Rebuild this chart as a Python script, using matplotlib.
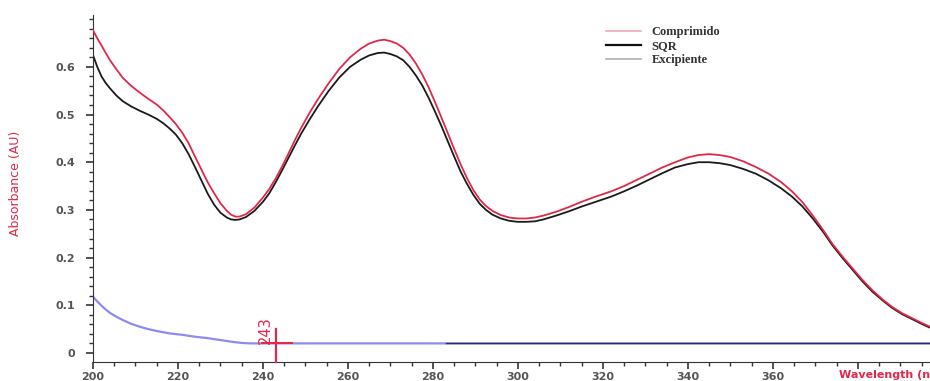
import numpy as np
import matplotlib.pyplot as plt
from matplotlib.ticker import MultipleLocator, FixedLocator, FuncFormatter

# wavelength grid (nm) shared by the two sample spectra
wavelength = [200, 201, 202, 203, 204, 205.5, 207, 209, 211, 213, 215, 216.5, 218,
              219.5, 221, 222.5, 224, 225.5, 227, 228.5, 230, 231.5, 232.5, 233.5,
              234.5, 236, 238, 240, 241.5, 243, 244.5, 246, 247.5, 249, 251, 253,
              255.5, 258, 260.5, 263, 265, 267, 268.5, 270, 271.5, 273, 274.5, 276,
              277.5, 279, 280.5, 282, 283.5, 285, 286.5, 288, 289.5, 291, 292.5, 294,
              296, 298, 300, 302, 304, 306, 309, 312, 315, 318, 322, 325, 328, 331,
              334, 337, 340, 342.5, 345, 347.5, 350, 353, 356, 359, 362, 364.5, 367,
              369.5, 372, 374, 376.5, 379, 381, 383.5, 386, 388, 390.5, 393, 395, 397]

comprimido = [0.677, 0.660, 0.645, 0.629, 0.614, 0.595, 0.577, 0.560, 0.546, 0.533,
              0.521, 0.509, 0.495, 0.480, 0.462, 0.440, 0.412, 0.385, 0.358, 0.335,
              0.314, 0.298, 0.290, 0.286, 0.286, 0.291, 0.305, 0.326, 0.344, 0.366,
              0.391, 0.418, 0.446, 0.472, 0.504, 0.533, 0.566, 0.596, 0.620, 0.638,
              0.649, 0.655, 0.657, 0.654, 0.649, 0.640, 0.626, 0.607, 0.584, 0.557,
              0.526, 0.494, 0.461, 0.428, 0.396, 0.367, 0.342, 0.322, 0.308, 0.298,
              0.289, 0.284, 0.282, 0.282, 0.284, 0.288, 0.296, 0.306, 0.317, 0.327,
              0.339, 0.350, 0.363, 0.376, 0.389, 0.400, 0.410, 0.415, 0.417, 0.415,
              0.411, 0.402, 0.390, 0.376, 0.358, 0.339, 0.316, 0.287, 0.256, 0.229,
              0.201, 0.175, 0.154, 0.131, 0.111, 0.097, 0.083, 0.072, 0.063, 0.055]

sqr = [0.625, 0.600, 0.580, 0.566, 0.555, 0.540, 0.528, 0.517, 0.508, 0.500,
       0.491, 0.482, 0.471, 0.458, 0.440, 0.417, 0.390, 0.362, 0.334, 0.311,
       0.294, 0.284, 0.280, 0.279, 0.280, 0.285, 0.298, 0.317, 0.335, 0.358,
       0.383, 0.409, 0.435, 0.460, 0.490, 0.518, 0.550, 0.578, 0.600, 0.615,
       0.624, 0.629, 0.630, 0.627, 0.622, 0.614, 0.600, 0.582, 0.561, 0.535,
       0.506, 0.476, 0.444, 0.412, 0.381, 0.355, 0.332, 0.313, 0.300, 0.290,
       0.282, 0.277, 0.275, 0.275, 0.276, 0.280, 0.288, 0.297, 0.307, 0.316,
       0.328, 0.339, 0.351, 0.364, 0.377, 0.389, 0.396, 0.400, 0.400, 0.398,
       0.394, 0.386, 0.376, 0.362, 0.345, 0.328, 0.307, 0.281, 0.252, 0.226,
       0.198, 0.172, 0.151, 0.128, 0.109, 0.095, 0.081, 0.070, 0.061, 0.053]

# excipient blank
exc_wavelength = [200, 201, 202, 203, 204, 205.5, 207, 209, 211, 213, 215, 218, 221,
                  224, 227, 230, 233, 235, 237, 240, 260, 283, 300, 340, 380, 397]
excipiente = [0.118, 0.108, 0.099, 0.091, 0.084, 0.076, 0.069, 0.061, 0.055, 0.050,
              0.046, 0.041, 0.038, 0.034, 0.031, 0.027, 0.023, 0.021, 0.020, 0.020,
              0.020, 0.020, 0.020, 0.020, 0.020, 0.020]

x_ticks = [200, 220, 240, 260, 280, 300, 320, 340, 360, 380]
x_tick_labels = ['200', '220', '240', '260', '280', '300', '320', '340', '360', '']
y_ticks = [0, 0.1, 0.2, 0.3, 0.4, 0.5, 0.6]

marker_wl = 243
marker_abs = 0.021

RED = '#e0284a'

fig = plt.figure(figsize=(9.3, 3.81), dpi=100)
ax = fig.add_axes([0.1, 0.0499, 0.9, 0.911])

ax.plot(wavelength, comprimido, color=RED, lw=1.3, label='Comprimido', zorder=3)
ax.plot(wavelength, sqr, color='#1a1a1a', lw=1.3, label='SQR', zorder=2)

exc_wl = np.array(exc_wavelength)
exc = np.array(excipiente)
ax.plot(exc_wl, exc, color='#8c8cf0', lw=1.6, label='Excipiente', zorder=2)
tail = exc_wl >= 283
ax.plot(exc_wl[tail], exc[tail], color='#2b2b60', lw=1.0, zorder=2)

# cursor cross at the selected wavelength
ax.plot([marker_wl, marker_wl], [-0.02, marker_abs + 0.03], color=RED, lw=1.6,
        zorder=4, clip_on=False)
ax.plot([marker_wl - 3.2, marker_wl + 3.8], [marker_abs, marker_abs], color=RED,
        lw=1.4, zorder=4)
ax.text(marker_wl - 0.6, marker_abs - 0.003, f'{marker_wl}', color=RED, rotation=90,
        ha='right', va='bottom', fontsize=10.5)

ax.set_xlim(200, 397)
ax.set_ylim(-0.019, 0.709)

for side in ['top', 'right']:
    ax.spines[side].set_visible(False)
ax.spines['left'].set_color('#333333')
ax.spines['bottom'].set_color('#333333')

ax.set_xticks(x_ticks)
ax.set_xticklabels(x_tick_labels)
ax.xaxis.set_minor_locator(MultipleLocator(5))
ax.yaxis.set_major_locator(FixedLocator(y_ticks))
ax.yaxis.set_minor_locator(MultipleLocator(0.02))
ax.yaxis.set_major_formatter(FuncFormatter(lambda v, p: '0' if abs(v) < 1e-9 else f'{v:.1f}'))
ax.tick_params(axis='both', which='major', direction='out', length=5, width=1.2,
               colors='#333333', labelsize=8, labelcolor='#555555')
ax.tick_params(axis='both', which='minor', direction='out', length=3, width=1,
               colors='#333333')
ax.tick_params(axis='x', pad=2)
ax.tick_params(axis='y', pad=8)
for lbl in ax.get_xticklabels() + ax.get_yticklabels():
    lbl.set_fontweight('bold')

fig.text(0.017, 0.52, 'Absorbance (AU)', color=RED, rotation=90, fontsize=9,
         ha='center', va='center')
fig.text(0.902, 0.003, 'Wavelength (nm)', color=RED, fontsize=8, fontweight='bold',
         ha='left', va='bottom')

# legend with softened line colours
handles = [plt.Line2D([], [], color='#f0a8b8', lw=1.2),
           plt.Line2D([], [], color='#111111', lw=1.6),
           plt.Line2D([], [], color='#b0b0b0', lw=1.2)]
leg = ax.legend(handles, ['Comprimido', 'SQR', 'Excipiente'], loc='upper left',
                bbox_to_anchor=(0.6, 1.0), frameon=False, handlelength=2.8,
                handletextpad=0.8, labelspacing=0.15,
                prop={'family': 'Liberation Serif', 'size': 9, 'weight': 'bold'})
for t in leg.get_texts():
    t.set_color('#333333')

fig.savefig('out.png', dpi=100)
